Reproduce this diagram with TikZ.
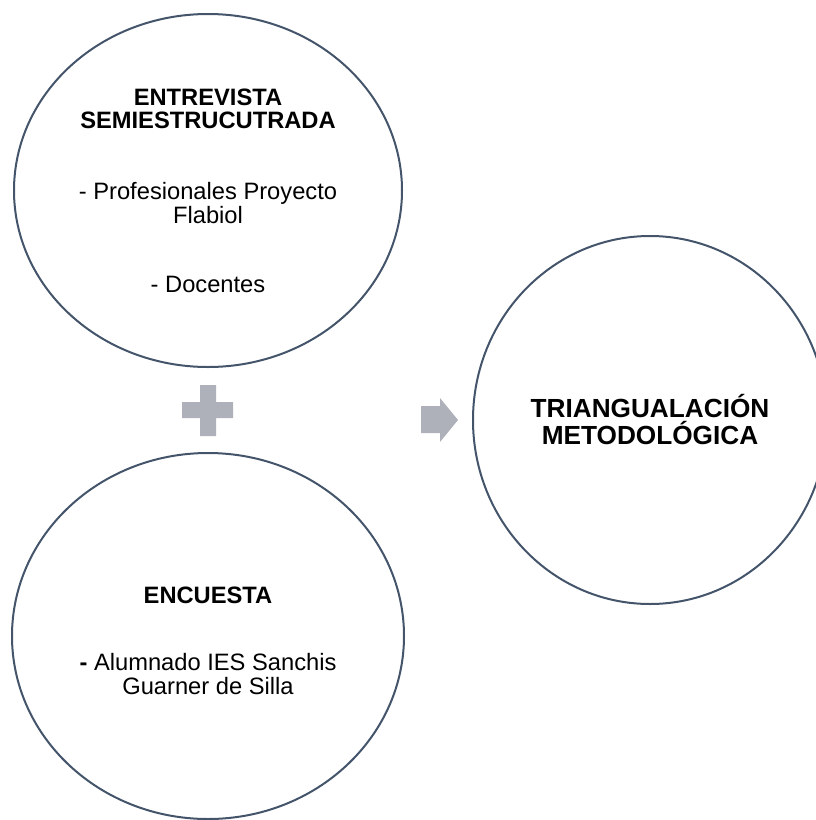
\documentclass[tikz,border=0pt]{standalone}
\usepackage{fontspec}
\setmainfont{Liberation Sans}
\usetikzlibrary{shapes.geometric}
\definecolor{ringcol}{HTML}{44546A}
\definecolor{signcol}{RGB}{174,177,185}
\begin{document}
\begin{tikzpicture}[x=1pt, y=-1pt,
        ring/.style = {ellipse, draw=ringcol, line width=2pt, inner sep=0pt, align=center},
        small/.style = {font=\fontsize{23.7}{23.5}\selectfont},
        big/.style = {font=\bfseries\fontsize{26.2}{27}\selectfont}]
        \useasboundingbox (0,0) rectangle (816,820);
        \node [ring, small, minimum width=388pt, minimum height=353pt] (1-1) at (208,190.5) {\textbf{ENTREVISTA}\\\textbf{SEMIESTRUCUTRADA}\\[47.5pt]- Profesionales Proyecto\\Flabiol\\[45.5pt]- Docentes};
        \node [ring, small, minimum width=392pt, minimum height=366pt] (2-1) at (208,636) {\rule{0pt}{26pt}\textbf{ENCUESTA}\\[43.5pt]\textbf{-} Alumnado IES Sanchis\\Guarner de Silla};
        \node [ring, big, minimum width=354pt, minimum height=368pt] (1-2) at (650,420) {TRIANGUALACIÓN\\METODOLÓGICA};
        \fill [signcol] (182,402) rectangle (233,418) (200,385) rectangle (216,436);
        \fill [signcol] (421,406) -- (440,406) -- (440,398) -- (458,420) -- (440,442) -- (440,433) -- (421,433) -- cycle;
    \end{tikzpicture}
\end{document}
